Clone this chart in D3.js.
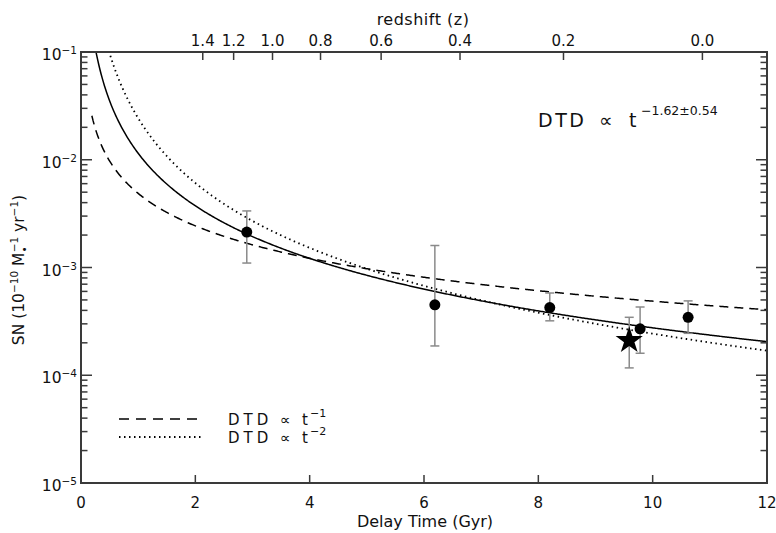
<!DOCTYPE html>
<html>
<head>
<meta charset="utf-8">
<script src="https://cdn.jsdelivr.net/npm/d3@7"></script>
<style>
  body { margin: 0; background: #fff; }
  svg { display: block; font-family: "DejaVu Sans", sans-serif; }
</style>
</head>
<body>
<svg id="chart" width="776" height="533"></svg>
<script>
// measured points (delay time in Gyr, SN rate)
var pointT    = [2.90, 6.19, 8.20, 9.78, 10.62];
var pointRate = [2.13e-3, 4.5e-4, 4.25e-4, 2.7e-4, 3.45e-4];
var pointHi   = [3.35e-3, 1.6e-3, 5.8e-4, 4.3e-4, 4.9e-4];
var pointLo   = [1.1e-3, 1.87e-4, 3.2e-4, 1.6e-4, 2.45e-4];

// star point
var starT = [9.59];
var starRate = [2.1e-4];
var starHi = [3.45e-4];
var starLo = [1.17e-4];

// power-law models: rate = norm * t^slope
var modelNames = ["fit", "t-1", "t-2"];
var modelNorm  = [0.01148, 0.00487, 0.02434];
var modelSlope = [-1.62, -1, -2];
var modelDash  = [null, "9,6", "1.5,3.5"];

// bottom axis ticks
var xTicks = [0, 2, 4, 6, 8, 10, 12];
// top axis: redshift labels and their delay time position
var zLabels = ["1.4", "1.2", "1.0", "0.8", "0.6", "0.4", "0.2", "0.0"];
var zTimes  = [2.13, 2.67, 3.35, 4.19, 5.25, 6.63, 8.44, 10.87];
// left axis decades
var yDecades = [-1, -2, -3, -4, -5];

var svg = d3.select("#chart");
var pLeft = 81, pRight = 767, pTop = 52, pBottom = 483;
var axisColor = "#3a3a3a";
var textColor = "#111";

var x = d3.scaleLinear().domain([0, 12]).range([pLeft, pRight]);
var y = d3.scaleLog().domain([1e-5, 1e-1]).range([pBottom, pTop]);

svg.append("clipPath").attr("id", "plotclip")
  .append("rect").attr("x", pLeft).attr("y", pTop)
  .attr("width", pRight - pLeft).attr("height", pBottom - pTop);

// curves
var tGrid = d3.range(0.19, 12.001, 0.02);
var line = d3.line()
  .x(function(d) { return x(d[0]); })
  .y(function(d) { return y(d[1]); });

var curves = svg.append("g").attr("clip-path", "url(#plotclip)");
modelNames.forEach(function(name, i) {
  var pts = tGrid.map(function(t) { return [t, modelNorm[i] * Math.pow(t, modelSlope[i])]; });
  curves.append("path")
    .attr("d", line(pts))
    .attr("fill", "none")
    .attr("stroke", "#000")
    .attr("stroke-width", i == 2 ? 1.8 : 1.5)
    .attr("stroke-dasharray", modelDash[i]);
});

// error bars
function errorBars(ts, hi, lo) {
  var g = svg.append("g").attr("stroke", "#8a8a8a").attr("stroke-width", 1.5);
  ts.forEach(function(t, i) {
    var cx = x(t);
    g.append("line").attr("x1", cx).attr("x2", cx).attr("y1", y(hi[i])).attr("y2", y(lo[i]));
    g.append("line").attr("x1", cx - 4.5).attr("x2", cx + 4.5).attr("y1", y(hi[i])).attr("y2", y(hi[i]));
    g.append("line").attr("x1", cx - 4.5).attr("x2", cx + 4.5).attr("y1", y(lo[i])).attr("y2", y(lo[i]));
  });
}
errorBars(pointT, pointHi, pointLo);
errorBars(starT, starHi, starLo);

svg.append("g").selectAll("circle")
  .data(pointT)
  .enter().append("circle")
  .attr("cx", function(d) { return x(d); })
  .attr("cy", function(d, i) { return y(pointRate[i]); })
  .attr("r", 5.5)
  .attr("fill", "#000");

svg.append("g").selectAll("path")
  .data(starT)
  .enter().append("path")
  .attr("d", d3.symbol().type(d3.symbolStar).size(230))
  .attr("transform", function(d, i) { return "translate(" + x(d) + "," + y(starRate[i]) + ")"; })
  .attr("fill", "#000");

// frame
svg.append("rect")
  .attr("x", pLeft).attr("y", pTop)
  .attr("width", pRight - pLeft).attr("height", pBottom - pTop)
  .attr("fill", "none").attr("stroke", axisColor).attr("stroke-width", 2);

// log ticks on left and right
var ticks = svg.append("g").attr("stroke", axisColor).attr("stroke-width", 1.5);
yDecades.forEach(function(e) {
  for (var m = 1; m <= 9; m++) {
    var v = m * Math.pow(10, e);
    if (v > 0.1 + 1e-9) continue;
    var len = m == 1 ? 11 : 6.5;
    var yy = y(v);
    ticks.append("line").attr("x1", pLeft).attr("x2", pLeft + len).attr("y1", yy).attr("y2", yy);
    ticks.append("line").attr("x1", pRight).attr("x2", pRight - len).attr("y1", yy).attr("y2", yy);
  }
});

// bottom ticks
xTicks.forEach(function(t) {
  ticks.append("line").attr("x1", x(t)).attr("x2", x(t)).attr("y1", pBottom).attr("y2", pBottom - 8);
});
// top redshift ticks
zTimes.forEach(function(t) {
  ticks.append("line").attr("x1", x(t)).attr("x2", x(t)).attr("y1", pTop).attr("y2", pTop + 8);
});

// y tick labels
yDecades.forEach(function(e) {
  var txt = svg.append("text")
    .attr("x", 77).attr("y", y(Math.pow(10, e)) + 8)
    .attr("text-anchor", "end")
    .attr("font-size", 15.5).attr("fill", textColor);
  txt.append("tspan").text("10");
  txt.append("tspan").attr("dy", -6).attr("font-size", 10.5).text("\u2212" + (-e));
});

// x tick labels
svg.append("g").selectAll("text")
  .data(xTicks)
  .enter().append("text")
  .attr("x", function(d) { return x(d); })
  .attr("y", 508)
  .attr("text-anchor", "middle")
  .attr("font-size", 15)
  .attr("fill", textColor)
  .text(function(d) { return d; });

// redshift labels
svg.append("g").selectAll("text")
  .data(zLabels)
  .enter().append("text")
  .attr("x", function(d, i) { return x(zTimes[i]); })
  .attr("y", 46)
  .attr("text-anchor", "middle")
  .attr("font-size", 15)
  .attr("fill", textColor)
  .text(function(d) { return d; });

svg.append("text")
  .attr("x", 423).attr("y", 25)
  .attr("text-anchor", "middle")
  .attr("font-size", 16).attr("letter-spacing", 0.5)
  .attr("fill", textColor)
  .text("redshift (z)");

svg.append("text")
  .attr("x", 425).attr("y", 527)
  .attr("text-anchor", "middle")
  .attr("font-size", 16)
  .attr("fill", textColor)
  .text("Delay Time (Gyr)");

// y axis title
var yl = svg.append("text")
  .attr("transform", "translate(24,270) rotate(-90)")
  .attr("text-anchor", "middle")
  .attr("font-size", 15.5)
  .attr("fill", textColor);
yl.append("tspan").text("SN (10");
yl.append("tspan").attr("dy", -6).attr("font-size", 10.5).text("\u221210");
yl.append("tspan").attr("dy", 6).text(" M");
yl.append("tspan").attr("dy", 4).attr("font-size", 10.5).text("\u2022");
yl.append("tspan").attr("dx", -6).attr("dy", -10).attr("font-size", 10.5).text("\u22121");
yl.append("tspan").attr("dy", 6).text(" yr");
yl.append("tspan").attr("dy", -6).attr("font-size", 10.5).text("\u22121");
yl.append("tspan").attr("dy", 6).text(")");

// DTD labels
function dtdLabel(x0, base, size, spacing, gap1, gap2, gap3, sup, supSize, supRaise) {
  var g = svg.append("g").attr("fill", textColor);
  g.append("text").attr("x", x0).attr("y", base).attr("font-size", size).attr("letter-spacing", spacing).text("DTD");
  g.append("text").attr("x", x0 + gap1).attr("y", base).attr("font-size", size).text("\u221d");
  g.append("text").attr("x", x0 + gap2).attr("y", base).attr("font-size", size).text("t");
  g.append("text").attr("x", x0 + gap3).attr("y", base - supRaise).attr("font-size", supSize).text(sup);
}
dtdLabel(538, 127, 19, 2.5, 61, 91, 103, "\u22121.62\u00b10.54", 12.5, 12);

// legend
var legendY = [419, 437];
var legendText = ["\u22121", "\u22122"];
[1, 2].forEach(function(k, i) {
  svg.append("line")
    .attr("x1", 119).attr("x2", 203)
    .attr("y1", legendY[i]).attr("y2", legendY[i])
    .attr("stroke", "#000")
    .attr("stroke-width", k == 2 ? 1.8 : 1.5)
    .attr("stroke-dasharray", k == 1 ? "10,7" : "1.5,3.5");
  dtdLabel(228, legendY[i] + 6, 15, 4, 52, 74, 82, legendText[i], 11, 8);
});
</script>
</body>
</html>
